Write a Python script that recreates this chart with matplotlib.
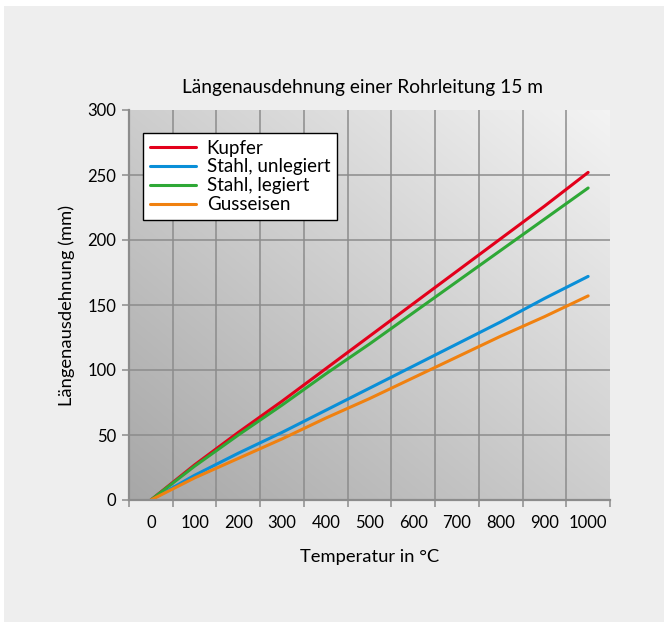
import matplotlib
matplotlib.use("Agg")
import matplotlib.pyplot as plt
import numpy as np
from matplotlib.patches import Rectangle

categories = ["0", "100", "200", "300", "400", "500", "600", "700", "800", "900", "1000"]
kupfer = [0, 27, 52, 76, 101, 126, 151, 176, 201, 226, 252]
stahl_legiert = [0, 26, 50, 73, 97, 120, 144, 168, 192, 216, 240]
stahl_unlegiert = [0, 19, 36, 52, 69, 86, 103, 120, 137, 155, 172]
gusseisen = [0, 17, 32, 47, 63, 78, 94, 110, 126, 141, 157]
series_names = ["Kupfer", "Stahl, unlegiert", "Stahl, legiert", "Gusseisen"]
series_colors = ["#e3001b", "#0a8fd8", "#2ea836", "#f08110"]
y_ticks = [0, 50, 100, 150, 200, 250, 300]

plt.rcParams['font.family'] = ['Lato', 'DejaVu Sans']

W, H = 668, 628
fig = plt.figure(figsize=(W / 100, H / 100), dpi=100, facecolor="white")
fig.patches.append(Rectangle((4 / W, 1 - 622 / H), 660 / W, 616 / H,
                             transform=fig.transFigure, facecolor="#eeeeee",
                             edgecolor="none", zorder=-10))

left, right, top, bottom = 129, 610, 110, 500
ax = fig.add_axes([left / W, 1 - bottom / H, (right - left) / W, (bottom - top) / H])
ax.set_facecolor("none")

# gradient background
n = 200
xx, yy = np.meshgrid(np.linspace(0, 1, n), np.linspace(0, 1, n))
t = (xx + yy) / 2
dark, light = 0.655, 0.955
g = dark + (light - dark) * t
img = np.dstack([g, g, g])
ax.imshow(img, extent=[0, 1, 0, 1], transform=ax.transAxes, aspect="auto",
          zorder=0, origin="lower", interpolation="bilinear")

x = np.arange(len(categories))
data = [kupfer, stahl_unlegiert, stahl_legiert, gusseisen]
for vals, name, col in zip(data, series_names, series_colors):
    ax.plot(x, vals, color=col, lw=2.2, label=name, zorder=3,
            solid_capstyle="round", solid_joinstyle="round")

ax.set_xlim(-0.5, len(categories) - 0.5)
ax.set_ylim(0, 300)

# grid
for b in np.arange(0.5, len(categories) - 0.5, 1):
    ax.axvline(b, color="#8c8c8c", lw=1.1, zorder=1)
for yv in y_ticks[1:-1]:
    ax.axhline(yv, color="#8c8c8c", lw=1.1, zorder=1)

ax.set_xticks(x)
ax.set_xticklabels(categories, fontsize=12)
ax.set_xticks(np.arange(-0.5, len(categories), 1), minor=True)
ax.tick_params(axis="x", which="major", length=0, pad=11)
ax.tick_params(axis="x", which="minor", length=5, color="#8c8c8c", width=1.1)
ax.set_yticks(y_ticks)
ax.set_yticklabels([str(v) for v in y_ticks], fontsize=12)
ax.tick_params(axis="y", length=5, color="#8c8c8c", width=1.1, pad=4)

for s in ["top", "right"]:
    ax.spines[s].set_visible(False)
for s in ["left", "bottom"]:
    ax.spines[s].set_color("#8c8c8c")
    ax.spines[s].set_linewidth(1.6)
    ax.spines[s].set_zorder(4)

ax.set_xlabel("Temperatur in °C", fontsize=13.2, labelpad=13)
ax.set_ylabel("Längenausdehnung (mm)", fontsize=13.2, labelpad=9)
fig.text(363 / W, 1 - 87 / H, "Längenausdehnung einer Rohrleitung 15 m",
         ha="center", va="center", fontsize=13.8)

leg = ax.legend(loc="upper left", bbox_to_anchor=((143 - left) / (right - left), (bottom - 133) / (bottom - top)),
                borderaxespad=0, frameon=True, fancybox=False, fontsize=13.5,
                handlelength=2.5, handletextpad=0.55, labelspacing=0.1,
                borderpad=0.35)
leg.get_frame().set_edgecolor("black")
leg.get_frame().set_linewidth(1.0)
leg.get_frame().set_alpha(1)
leg.set_zorder(5)

fig.savefig("out.png", dpi=100, facecolor="white")
